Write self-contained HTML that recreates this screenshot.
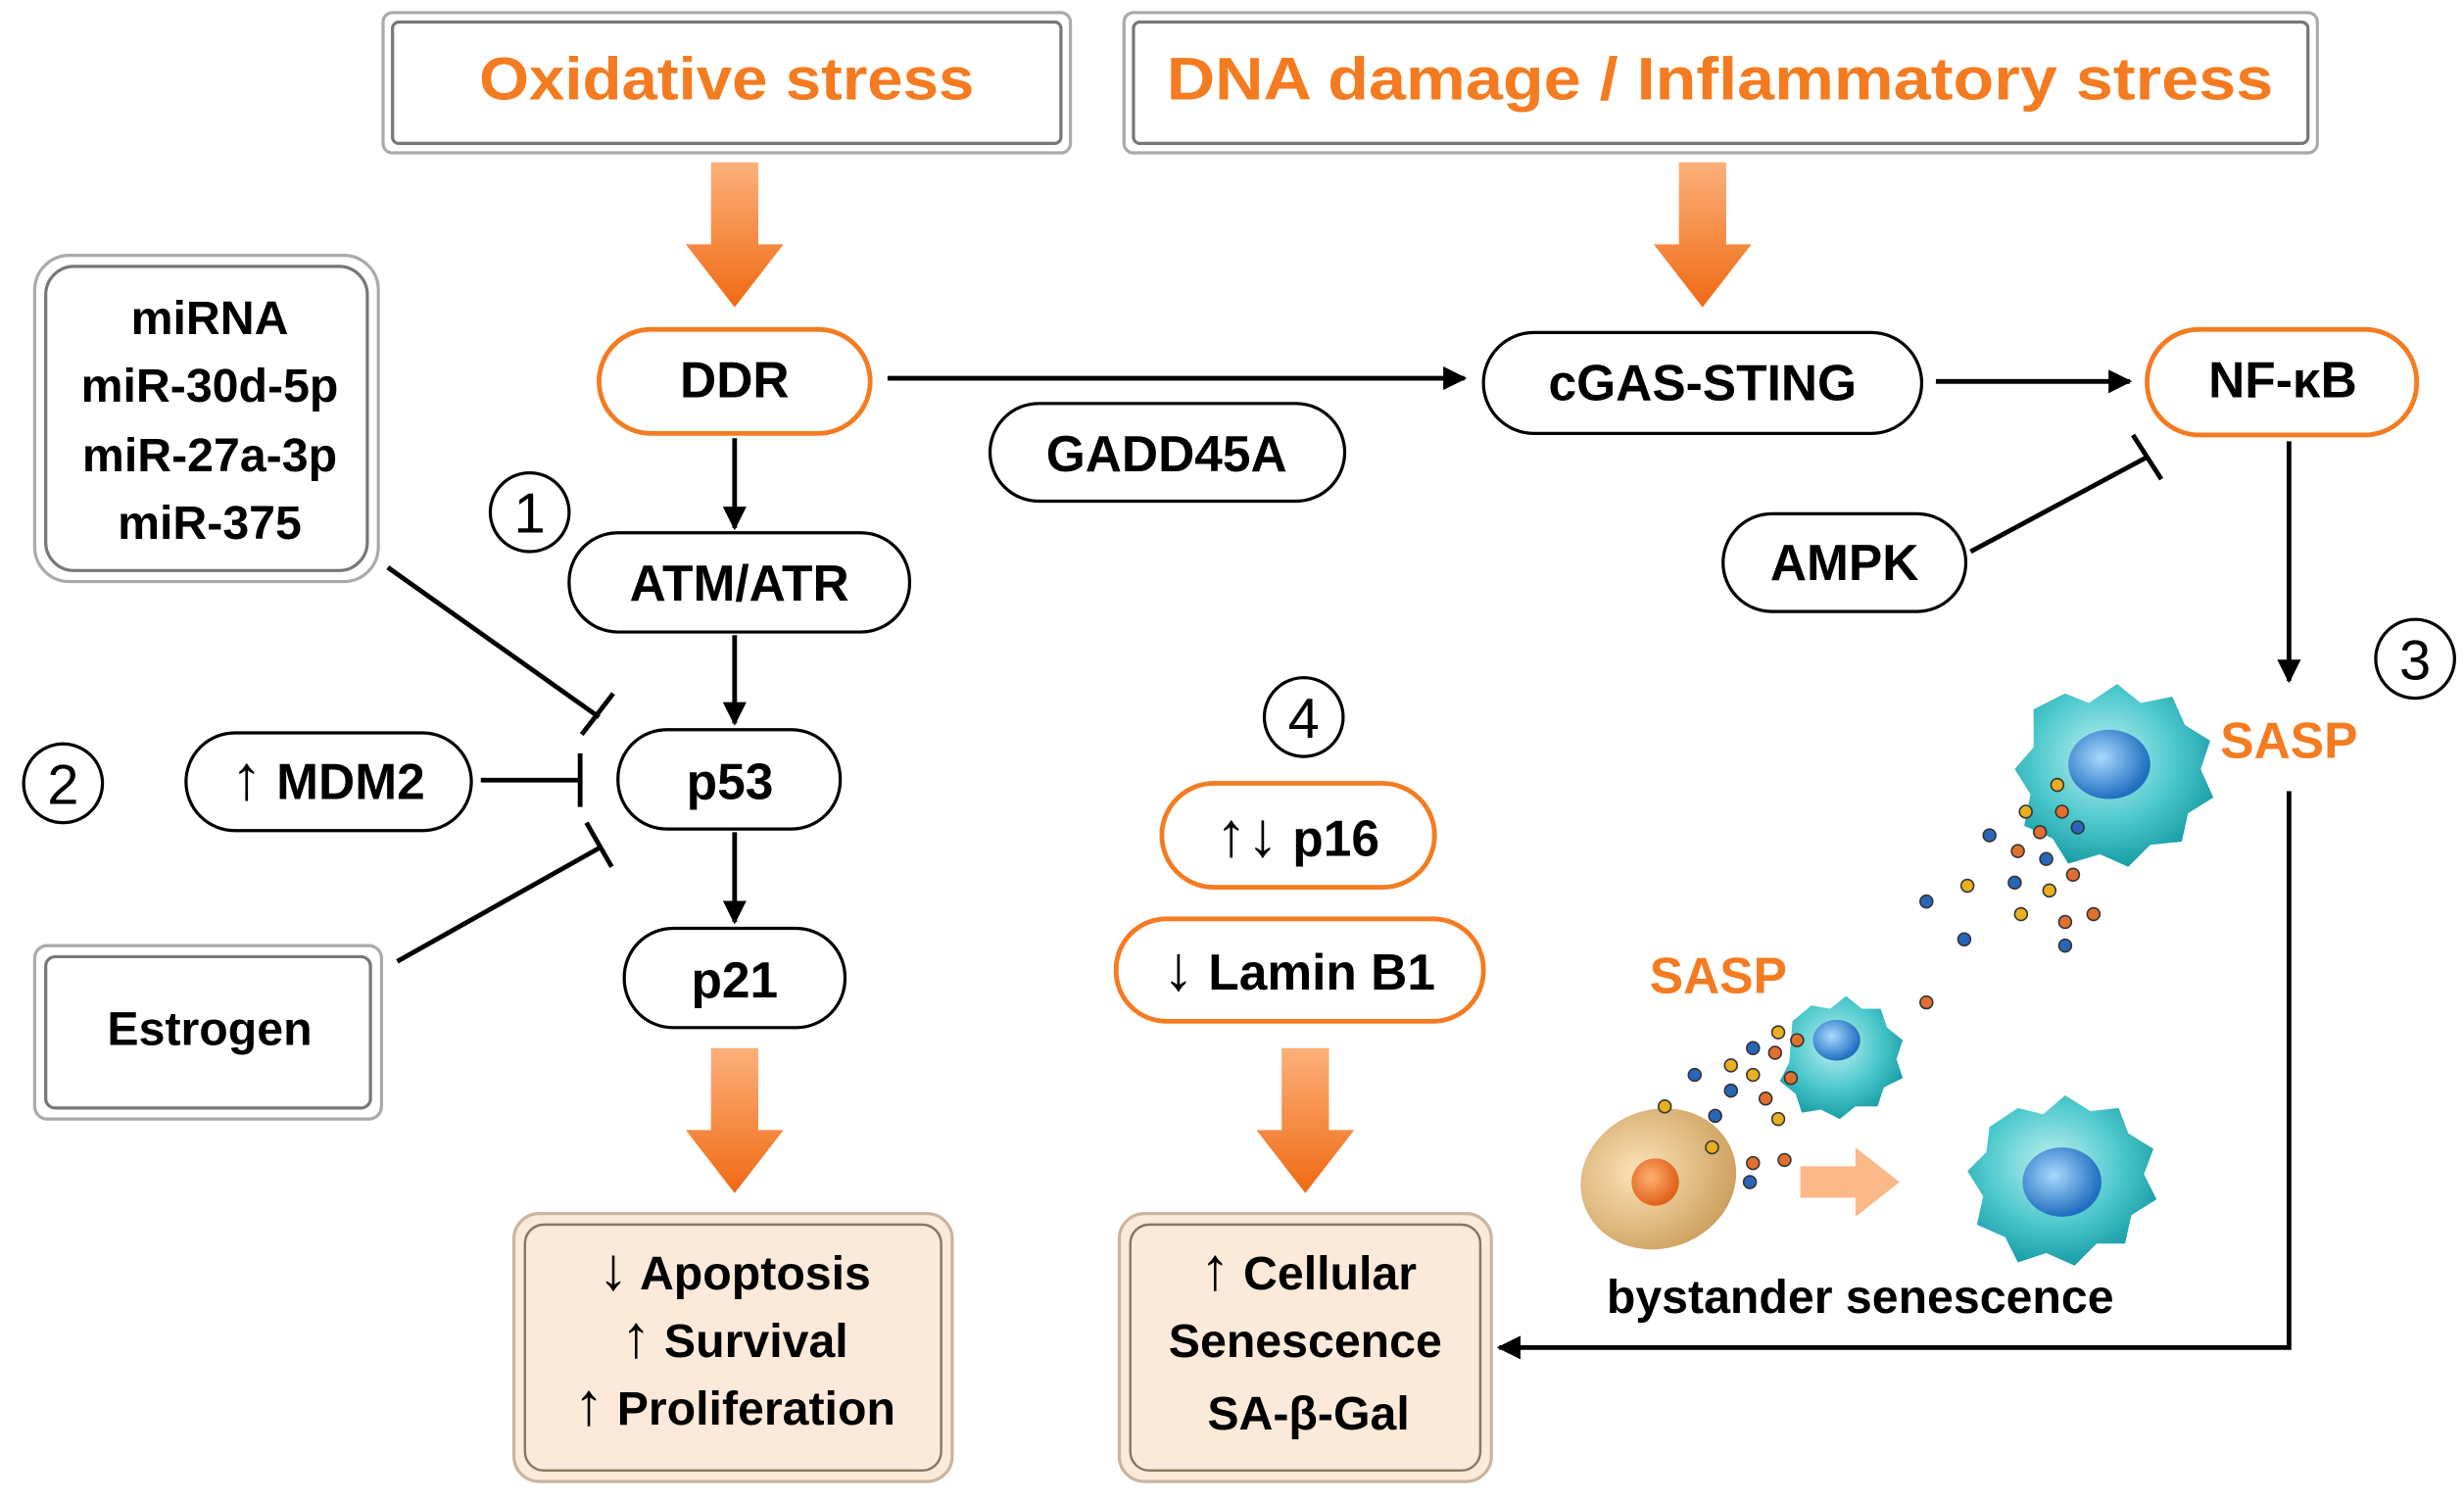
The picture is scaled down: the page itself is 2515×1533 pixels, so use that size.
<!DOCTYPE html>
<html><head><meta charset="utf-8"><style>
html,body{margin:0;padding:0;background:#fff;}
svg{display:block;}
text{font-family:"Liberation Sans","DejaVu Sans",sans-serif;font-weight:bold;}
</style></head><body>
<svg width="2515" height="1533" viewBox="0 0 1563 953" preserveAspectRatio="none" xmlns="http://www.w3.org/2000/svg">
<defs>
<linearGradient id="og" x1="0" y1="0" x2="0" y2="1"><stop offset="0" stop-color="#fbb07a"/><stop offset="1" stop-color="#f06a14"/></linearGradient>
<radialGradient id="teal" cx="0.45" cy="0.4" r="0.6"><stop offset="0" stop-color="#bff0f0"/><stop offset="0.6" stop-color="#4cc8cc"/><stop offset="1" stop-color="#1a9ea6"/></radialGradient>
<radialGradient id="nuc" cx="0.4" cy="0.4" r="0.6"><stop offset="0" stop-color="#a8d8ff"/><stop offset="1" stop-color="#1f6fc0"/></radialGradient>
<radialGradient id="tan" cx="0.4" cy="0.4" r="0.7"><stop offset="0" stop-color="#fbe3b8"/><stop offset="1" stop-color="#c99a55"/></radialGradient>
<radialGradient id="onuc" cx="0.4" cy="0.4" r="0.6"><stop offset="0" stop-color="#ffb070"/><stop offset="1" stop-color="#e0601a"/></radialGradient>
<marker id="ah" viewBox="0 0 10 10" refX="9" refY="5" markerWidth="5" markerHeight="5" orient="auto"><path d="M0,0 L10,5 L0,10 z" fill="#000"/></marker>
</defs>
<g fill="none" stroke="#aaa" stroke-width="2">
<rect x="243" y="8" width="436" height="89" rx="6"/><rect x="249" y="14" width="424" height="77" rx="4" stroke="#777"/>
<rect x="713" y="8" width="757" height="89" rx="6"/><rect x="719" y="14" width="745" height="77" rx="4" stroke="#777"/>
<rect x="22" y="162" width="218" height="207" rx="22"/><rect x="29" y="169" width="204" height="193" rx="18" stroke="#777"/>
<rect x="22" y="600" width="220" height="110" rx="8"/><rect x="29" y="607" width="206" height="96" rx="6" stroke="#777"/>
</g>
<g fill="#fbe9d9" stroke="#c9b4a0" stroke-width="2">
<rect x="326" y="770" width="278" height="170" rx="16"/><rect x="710" y="770" width="236" height="170" rx="16"/>
</g>
<g fill="none" stroke="#8a7560" stroke-width="1.5">
<rect x="333" y="777" width="264" height="156" rx="12"/><rect x="717" y="777" width="222" height="156" rx="12"/>
</g>
<g fill="#f47b20" font-size="38" text-anchor="middle">
<text x="461" y="63" textLength="314" lengthAdjust="spacingAndGlyphs">Oxidative stress</text>
<text x="1091" y="63" textLength="702" lengthAdjust="spacingAndGlyphs">DNA damage / Inflammatory stress</text>
</g>
<g fill="url(#og)">
<path d="M451,103h30v52h16l-31,40l-31,-40h16z"/>
<path d="M1065,103h30v52h16l-31,40l-31,-40h16z"/>
<path d="M451,665h30v52h16l-31,40l-31,-40h16z"/>
<path d="M813,665h30v52h16l-31,40l-31,-40h16z"/>
</g>
<g stroke-width="3" fill="#fff">
<rect x="380" y="209" width="172" height="66" rx="33" stroke="#f47b20"/>
<rect x="1362" y="209" width="171" height="67" rx="33" stroke="#f47b20"/>
<rect x="737" y="497" width="173" height="66" rx="33" stroke="#f47b20"/>
<rect x="708" y="583" width="233" height="65" rx="32" stroke="#f47b20"/>
</g>
<g stroke-width="2" stroke="#000" fill="#fff">
<rect x="941" y="211" width="278" height="64" rx="32"/>
<rect x="628" y="256" width="225" height="62" rx="31"/>
<rect x="1093" y="326" width="154" height="62" rx="31"/>
<rect x="361" y="338" width="216" height="63" rx="31"/>
<rect x="392" y="463" width="141" height="63" rx="31"/>
<rect x="396" y="589" width="140" height="63" rx="31"/>
<rect x="118" y="465" width="181" height="62" rx="31"/>
</g>
<g stroke="#000" stroke-width="3" fill="none">
<line x1="563" y1="240" x2="929" y2="240" marker-end="url(#ah)"/>
<line x1="1228" y1="242" x2="1351" y2="242" marker-end="url(#ah)"/>
<line x1="466" y1="278" x2="466" y2="335" marker-end="url(#ah)"/>
<line x1="466" y1="403" x2="466" y2="459" marker-end="url(#ah)"/>
<line x1="466" y1="528" x2="466" y2="585" marker-end="url(#ah)"/>
<line x1="1452" y1="280" x2="1452" y2="432" marker-end="url(#ah)"/>
<polyline points="1452,502 1452,855 951,855" marker-end="url(#ah)"/>
<line x1="1250" y1="350" x2="1362" y2="290"/><line x1="1353" y1="276" x2="1371" y2="304"/>
<line x1="246" y1="360" x2="380" y2="455"/><line x1="369" y1="466" x2="389" y2="440"/>
<line x1="305" y1="495" x2="368" y2="495"/><line x1="368" y1="478" x2="368" y2="512"/>
<line x1="252" y1="610" x2="382" y2="537"/><line x1="372" y1="522" x2="388" y2="550"/>
</g>
<g fill="#000" font-size="30" text-anchor="middle">
<text x="466" y="252" font-size="32">DDR</text>
<text x="1080" y="254" font-size="32">cGAS-STING</text>
<text x="1448" y="252" font-size="32">NF-κB</text>
<text x="740" y="299" font-size="32">GADD45A</text>
<text x="1170" y="368" font-size="32">AMPK</text>
<text x="469" y="381" font-size="32">ATM/ATR</text>
<text x="463" y="507" font-size="32">p53</text>
<text x="466" y="633" font-size="32">p21</text>
<text x="208" y="507" font-size="32"><tspan font-size="40">↑</tspan> MDM2</text>
<text x="823" y="543" font-size="32"><tspan font-size="40">↑↓</tspan> p16</text>
<text x="824" y="628" font-size="32"><tspan font-size="40">↓</tspan> Lamin B1</text>
<text x="133" y="212">miRNA</text>
<text x="133" y="255">miR-30d-5p</text>
<text x="133" y="299">miR-27a-3p</text>
<text x="133" y="342">miR-375</text>
<text x="133" y="663">Estrogen</text>
<text x="466" y="818"><tspan font-size="38">↓</tspan> Apoptosis</text>
<text x="466" y="861"><tspan font-size="38">↑</tspan> Survival</text>
<text x="466" y="904"><tspan font-size="38">↑</tspan> Proliferation</text>
<text x="830" y="818"><tspan font-size="38">↑</tspan> Cellular</text>
<text x="828" y="861">Senescence</text>
<text x="830" y="907">SA-β-Gal</text>
<text x="1180" y="833">bystander senescence</text>
</g>
<g fill="#fff" stroke="#000" stroke-width="2">
<circle cx="336" cy="325" r="25"/><circle cx="40" cy="497" r="25"/><circle cx="827" cy="455" r="25"/><circle cx="1532" cy="418" r="25"/>
</g>
<g font-size="36" text-anchor="middle" fill="#000">
<text x="336" y="338" style="font-weight:normal">1</text><text x="40" y="510" style="font-weight:normal">2</text><text x="827" y="468" style="font-weight:normal">4</text><text x="1532" y="431" style="font-weight:normal">3</text>
</g>
<g fill="#f47b20" font-size="32" text-anchor="middle">
<text x="1452" y="481">SASP</text>
<text x="1090" y="630">SASP</text>
</g>
<path d="M1290,450 l20,-10 l15,6 l18,-12 l15,12 l20,-4 l8,18 l16,10 l-6,18 l8,18 l-16,10 l-4,18 l-20,2 l-14,14 l-18,-8 l-20,6 l-10,-16 l-18,-8 l4,-20 l-10,-16 l12,-14 z" fill="url(#teal)"/>
<ellipse cx="1338" cy="485" rx="26" ry="22" fill="url(#nuc)"/>
<path d="M1137,648 l12,-10 l12,2 l10,-8 l10,8 l12,0 l4,12 l10,8 l-4,12 l4,12 l-12,6 l-4,12 l-14,0 l-10,8 l-12,-6 l-12,2 l-4,-12 l-10,-8 l6,-12 z" fill="url(#teal)"/>
<ellipse cx="1165" cy="660" rx="15" ry="13" fill="url(#nuc)"/>
<path d="M1262,715 l18,-12 l16,4 l14,-12 l16,10 l18,-2 l6,16 l16,10 l-6,16 l8,16 l-16,10 l-4,18 l-18,0 l-14,14 l-18,-8 l-18,6 l-8,-16 l-18,-8 l4,-18 l-10,-16 l12,-12 z" fill="url(#teal)"/>
<ellipse cx="1308" cy="750" rx="25" ry="22" fill="url(#nuc)"/>
<ellipse cx="1052" cy="748" rx="50" ry="44" transform="rotate(-20 1052 748)" fill="url(#tan)"/>
<circle cx="1050" cy="750" r="15" fill="url(#onuc)"/>
<path d="M1142,740h35v-12l28,22l-28,22v-12h-35z" fill="#fbb98a"/>
<g stroke="#333" stroke-width="1">
<circle cx="1222" cy="572" r="4" fill="#2a66b8"/><circle cx="1248" cy="562" r="4" fill="#e8b020"/><circle cx="1246" cy="596" r="4" fill="#2a66b8"/>
<circle cx="1280" cy="540" r="4" fill="#e07030"/><circle cx="1298" cy="545" r="4" fill="#2a66b8"/><circle cx="1278" cy="560" r="4" fill="#2a66b8"/>
<circle cx="1300" cy="565" r="4" fill="#e8b020"/><circle cx="1315" cy="555" r="4" fill="#e07030"/><circle cx="1282" cy="580" r="4" fill="#e8b020"/>
<circle cx="1310" cy="585" r="4" fill="#e07030"/><circle cx="1328" cy="580" r="4" fill="#e07030"/><circle cx="1310" cy="600" r="4" fill="#2a66b8"/>
<circle cx="1262" cy="530" r="4" fill="#2a66b8"/><circle cx="1285" cy="515" r="4" fill="#e8b020"/><circle cx="1305" cy="498" r="4" fill="#e8b020"/>
<circle cx="1308" cy="515" r="4" fill="#e07030"/><circle cx="1318" cy="525" r="4" fill="#2a66b8"/><circle cx="1294" cy="528" r="4" fill="#e07030"/>
<circle cx="1222" cy="636" r="4" fill="#e07030"/>
<circle cx="1075" cy="682" r="4" fill="#2a66b8"/><circle cx="1098" cy="676" r="4" fill="#e8b020"/><circle cx="1112" cy="665" r="4" fill="#2a66b8"/>
<circle cx="1126" cy="668" r="4" fill="#e07030"/><circle cx="1128" cy="655" r="4" fill="#e8b020"/><circle cx="1112" cy="682" r="4" fill="#e8b020"/>
<circle cx="1136" cy="684" r="4" fill="#e07030"/><circle cx="1098" cy="692" r="4" fill="#2a66b8"/><circle cx="1120" cy="697" r="4" fill="#e07030"/>
<circle cx="1056" cy="702" r="4" fill="#e8b020"/><circle cx="1088" cy="708" r="4" fill="#2a66b8"/><circle cx="1128" cy="710" r="4" fill="#e8b020"/>
<circle cx="1086" cy="728" r="4" fill="#e8b020"/><circle cx="1112" cy="738" r="4" fill="#e07030"/><circle cx="1132" cy="736" r="4" fill="#e07030"/>
<circle cx="1110" cy="750" r="4" fill="#2a66b8"/><circle cx="1140" cy="660" r="4" fill="#e07030"/>
</g>
</svg>
</body></html>
